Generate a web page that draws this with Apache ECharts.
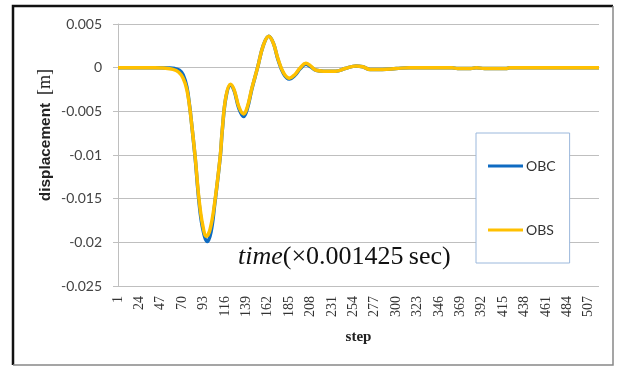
<!DOCTYPE html>
<html lang="en">
<head>
  <meta charset="UTF-8">
  <title>displacement</title>
  <script src="https://cdn.jsdelivr.net/npm/echarts@6/dist/echarts.min.js"></script>
  <style>
    html, body { margin: 0; padding: 0; background: #fff; }
    #chart { width: 617px; height: 367px; }
  </style>
</head>
<body>
<div id="chart"></div>
<script type="text/javascript">
  // step count on the x axis (labels every 23 steps: 1, 24, 47 ...)
  var stepCount = 518;

  // key points: step number and displacement [m]
  var obsSteps  = [1, 40, 50, 60, 66, 71, 75, 78, 80, 84, 88, 92, 96, 100, 105, 111, 113, 117, 122, 126, 131, 136, 140, 145, 151, 157, 163, 168, 173, 179, 185, 191, 197, 203, 208, 214, 222, 235, 245, 257, 264, 272, 285, 300, 314, 360, 366, 380, 386, 395, 418, 422, 518];
  var obsValues = [0, 0, -0.00005, -0.0002, -0.0005, -0.0012, -0.0025, -0.0045, -0.0063, -0.0103, -0.0150, -0.0180, -0.0193, -0.0185, -0.0154, -0.0100, -0.0072, -0.0033, -0.0019, -0.0026, -0.0045, -0.0053, -0.0045, -0.0023, 0, 0.0025, 0.0036, 0.0028, 0.0010, -0.0006, -0.0012, -0.0008, 0.0000, 0.0005, 0.0002, -0.0003, -0.0004, -0.0004, -0.0001, 0.0002, 0.0001, -0.0002, -0.0002, -0.0001, 0, 0, -0.0001, -0.0001, 0, -0.0001, -0.0001, 0, 0];

  var obcSteps  = [1, 45, 55, 62, 67, 71, 75, 78, 80, 84, 88, 92, 97, 101, 105, 111, 113, 117, 122, 126, 131, 136, 140, 145, 151, 157, 163, 168, 173, 179, 185, 191, 197, 203, 208, 214, 222, 235, 245, 257, 264, 272, 285, 300, 314, 360, 366, 380, 386, 395, 418, 422, 518];
  var obcValues = [0, 0, -0.00003, -0.0001, -0.0003, -0.0008, -0.0022, -0.0044, -0.0063, -0.0104, -0.0153, -0.0184, -0.0199, -0.0188, -0.0156, -0.0101, -0.0073, -0.0034, -0.0020, -0.0027, -0.0047, -0.0056, -0.0047, -0.0024, 0, 0.0025, 0.0036, 0.0028, 0.0009, -0.0007, -0.0013, -0.0009, -0.0001, 0.0004, 0.0001, -0.0003, -0.0004, -0.0004, -0.0001, 0.0002, 0.0001, -0.0002, -0.0002, -0.0001, 0, 0, -0.0001, -0.0001, 0, -0.0001, -0.0001, 0, 0];

  var steps = [];
  for (let i = 1; i <= stepCount; i++) {
    steps.push(String(i));
  }

  function pairs(s, v) {
    var out = [];
    for (let i = 0; i < s.length; i++) {
      out.push([s[i] - 1, v[i]]);
    }
    return out;
  }

  var myChart = echarts.init(document.getElementById('chart'));

  var option = {
    backgroundColor: '#ffffff',
    animation: false,
    grid: { left: 118, right: 18, top: 24, bottom: 81 },
    legend: {
      orient: 'vertical',
      left: 476,
      top: 133,
      padding: [26, 14, 26, 12],
      itemGap: 50,
      itemWidth: 35,
      itemHeight: 3,
      icon: 'rect',
      borderColor: '#9BB8DC',
      borderWidth: 1,
      backgroundColor: '#ffffff',
      textStyle: { fontFamily: 'Lato', fontSize: 14, color: '#333333', padding: [0, 0, 0, -2] },
      data: ['OBC', 'OBS']
    },
    xAxis: {
      type: 'category',
      data: steps,
      boundaryGap: false,
      name: 'step',
      nameLocation: 'middle',
      nameGap: 44,
      nameTextStyle: { fontFamily: 'Liberation Serif', fontWeight: 'bold', fontSize: 15, color: '#222' },
      axisLine: { lineStyle: { color: '#BFBFBF' } },
      axisTick: { show: false },
      axisLabel: {
        interval: 22,
        rotate: 90,
        margin: 10,
        fontFamily: 'Liberation Serif',
        fontSize: 14,
        color: '#333'
      },
      splitLine: { show: false }
    },
    yAxis: {
      type: 'value',
      min: -0.025,
      max: 0.005,
      interval: 0.005,
      axisLine: { show: true, lineStyle: { color: '#BFBFBF' } },
      axisTick: { show: true, length: 5, lineStyle: { color: '#BFBFBF' } },
      axisLabel: {
        margin: 16,
        fontFamily: 'Lato',
        fontSize: 14,
        color: '#444',
        formatter: function (v) { return String(+v.toFixed(3)); }
      },
      splitLine: { lineStyle: { color: '#BFBFBF', width: 1 } }
    },
    graphic: [
      // y axis title, two pieces: bold sans word and serif unit
      {
        type: 'text',
        x: 46,
        y: 152,
        rotation: Math.PI / 2,
        scaleX: 1.1,
        style: {
          text: 'displacement',
          fontFamily: 'Liberation Sans',
          fontWeight: 'bold',
          fontSize: 14,
          fill: '#222',
          align: 'center',
          verticalAlign: 'middle'
        }
      },
      {
        type: 'text',
        x: 45,
        y: 82,
        rotation: Math.PI / 2,
        style: {
          text: '[m]',
          fontFamily: 'Liberation Serif',
          fontSize: 18,
          fill: '#222',
          align: 'center',
          verticalAlign: 'middle'
        }
      },
      {
        type: 'text',
        left: 238,
        top: 244,
        z: 10,
        style: {
          text: '{i|time}(×0.001425\u2009sec)',
          fontFamily: 'Liberation Serif',
          fontSize: 26,
          fill: '#111',
          rich: {
            i: { fontFamily: 'Liberation Serif', fontStyle: 'italic', fontSize: 26, fill: '#111' }
          }
        }
      },
      {
        type: 'polyline',
        shape: { points: [[13, 365], [13, 6], [613, 6]] },
        style: { stroke: '#111', lineWidth: 2.5, fill: null }
      },
      {
        type: 'polyline',
        shape: { points: [[613, 6], [613, 365], [13, 365]] },
        style: { stroke: '#888', lineWidth: 1.5, fill: null }
      }
    ],
    series: [
      {
        name: 'OBC',
        type: 'line',
        data: pairs(obcSteps, obcValues),
        smooth: 0.4,
        showSymbol: false,
        itemStyle: { color: '#0E6BC2' },
        lineStyle: { color: '#0E6BC2', width: 3.5 }
      },
      {
        name: 'OBS',
        type: 'line',
        data: pairs(obsSteps, obsValues),
        smooth: 0.4,
        showSymbol: false,
        itemStyle: { color: '#FFC000' },
        lineStyle: { color: '#FFC000', width: 3.5 }
      }
    ]
  };
  myChart.setOption(option);
</script>
</body>
</html>
